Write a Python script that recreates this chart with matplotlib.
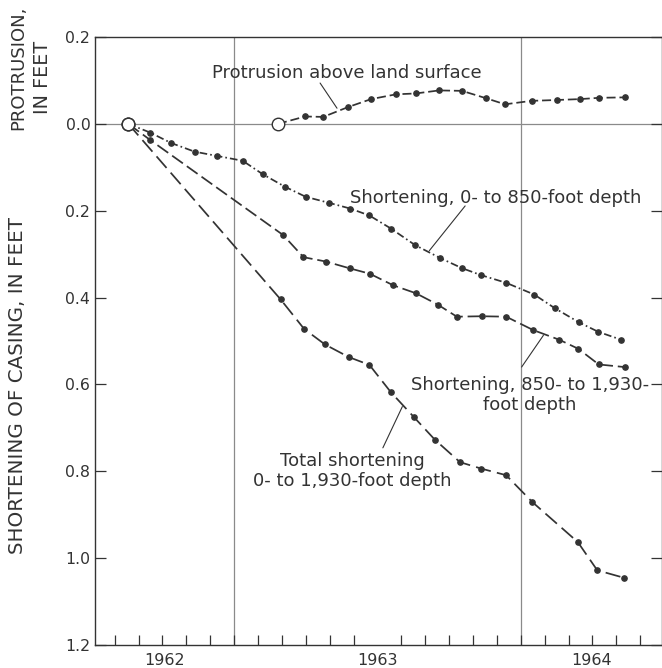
import matplotlib
matplotlib.use("Agg")
import matplotlib.pyplot as plt
from matplotlib.ticker import FixedLocator, FuncFormatter

plt.rcParams['font.family'] = ['DejaVu Sans']
plt.rcParams['lines.scale_dashes'] = False

INK = '#333333'
GRID = '#8a8a8a'

# Decimal-year dates and measured values (feet)
t_upper = [1962.631, 1962.707, 1962.780, 1962.862, 1962.942, 1963.030, 1963.100,
           1963.178, 1963.250, 1963.332, 1963.405, 1963.472, 1963.547, 1963.631,
           1963.719, 1963.794, 1963.860, 1963.949, 1964.047, 1964.120, 1964.203,
           1964.271, 1964.350]
s_upper = [0.0, 0.020, 0.044, 0.064, 0.074, 0.085, 0.116, 0.145, 0.168, 0.182,
           0.195, 0.211, 0.241, 0.279, 0.309, 0.332, 0.348, 0.366, 0.393, 0.425,
           0.457, 0.479, 0.497]

t_lower = [1962.631, 1962.707, 1963.171, 1963.242, 1963.320, 1963.405, 1963.473,
           1963.556, 1963.634, 1963.710, 1963.777, 1963.864, 1963.949, 1964.044,
           1964.134, 1964.201, 1964.272, 1964.362]
s_lower = [0.0, 0.037, 0.256, 0.307, 0.317, 0.333, 0.345, 0.372, 0.390, 0.416,
           0.444, 0.443, 0.444, 0.475, 0.497, 0.518, 0.554, 0.560]

t_total = [1962.631, 1963.162, 1963.244, 1963.317, 1963.400, 1963.472, 1963.547,
           1963.627, 1963.700, 1963.788, 1963.863, 1963.949, 1964.039, 1964.199,
           1964.267, 1964.359]
s_total = [0.0, 0.404, 0.472, 0.508, 0.537, 0.555, 0.618, 0.675, 0.727, 0.779,
           0.794, 0.809, 0.870, 0.963, 1.028, 1.045]

t_prot = [1963.153, 1963.248, 1963.311, 1963.399, 1963.478, 1963.565, 1963.634,
          1963.715, 1963.795, 1963.879, 1963.945, 1964.038, 1964.128, 1964.207,
          1964.274, 1964.364]
p_prot = [0.0, 0.017, 0.016, 0.039, 0.057, 0.068, 0.070, 0.077, 0.076, 0.059,
          0.045, 0.053, 0.055, 0.057, 0.060, 0.061]

years = [1962, 1963, 1964]
y_ticks = [-0.2, 0.0, 0.2, 0.4, 0.6, 0.8, 1.0, 1.2]

x_min, x_max = 1962.513, 1964.491

fig = plt.figure(figsize=(6.62, 6.68), dpi=100)
ax = fig.add_axes([94.5 / 662, 23 / 668, (661.5 - 94.5) / 662, (645 - 37) / 668])
ax.set_xlim(x_min, x_max)
ax.set_ylim(1.2, -0.2)

# reference lines: zero line and year boundaries
ax.axhline(0.0, color=GRID, lw=0.9, zorder=1)
for yr in years[1:]:
    ax.axvline(yr, color=GRID, lw=0.9, zorder=1)

def series(t, v, dashes):
    ax.plot(t, v, color=INK, lw=1.25, linestyle=(0, dashes),
            marker='o', ms=3.8, mfc=INK, mec=INK, markevery=slice(1, None),
            zorder=3)
    ax.plot(t[0], v[0], marker='o', ms=9, mfc='white', mec=INK, mew=1.0,
            linestyle='none', zorder=4)

series(t_upper, s_upper, (5.5, 2.2, 1.2, 2.2))
series(t_lower, s_lower, (9.5, 3.5))
series(t_total, s_total, (11, 4.5))
series(t_prot, [-p for p in p_prot], (6.5, 2.8))

# y axis: protrusion upward, shortening downward, both labelled as magnitudes
ax.yaxis.set_major_locator(FixedLocator(y_ticks))
ax.yaxis.set_major_formatter(FuncFormatter(lambda v, _: f"{abs(v):.1f}"))
ax.tick_params(axis='y', which='major', direction='in', length=8, width=0.9,
               color=INK, labelsize=11.3, labelcolor=INK, pad=3,
               left=True, right=True, labelleft=True, labelright=False)

# x axis: monthly ticks, year labels centred in each visible year span
months = [1962 + k / 12 for k in range(0, 40) if x_min < 1962 + k / 12 < x_max]
ax.xaxis.set_minor_locator(FixedLocator(months))
label_pos = [(x_min + 1963) / 2, 1963.5, (1964 + x_max) / 2]
ax.xaxis.set_major_locator(FixedLocator(label_pos))
ax.set_xticklabels([str(y) for y in years])
ax.tick_params(axis='x', which='major', length=0, labelsize=11.5,
               labelcolor=INK, pad=6)
ax.tick_params(axis='x', which='minor', direction='in', length=7, width=0.9,
               color=INK)

for sp in ax.spines.values():
    sp.set_color(INK)
    sp.set_linewidth(1.0)

# curve labels with leader lines
txt = dict(color=INK, fontsize=13, ha='center', va='center')
ax.text(1963.394, -0.116, "Protrusion above land surface", **txt)
ax.text(1963.913, 0.170, "Shortening, 0- to 850-foot depth", **txt)
ax.text(1964.032, 0.625, "Shortening, 850- to 1,930-\nfoot depth",
        linespacing=1.15, **txt)
ax.text(1963.412, 0.800, "Total shortening\n0- to 1,930-foot depth",
        linespacing=1.15, **txt)

leaders = [((1963.300, -0.094), (1963.359, -0.036)),
           ((1963.806, 0.189), (1963.681, 0.292)),
           ((1964.003, 0.560), (1964.079, 0.487)),
           ((1963.519, 0.746), (1963.587, 0.651))]
for start, end in leaders:
    ax.annotate('', xy=end, xytext=start,
                arrowprops=dict(arrowstyle='-', lw=0.8, color=INK,
                                shrinkA=0, shrinkB=0))

# axis titles
fig.text(18 / 662, 1 - 67.5 / 668, "PROTRUSION,", rotation=90,
         ha='center', va='center', fontsize=13, color=INK)
fig.text(43 / 662, 1 - 77.5 / 668, "IN FEET", rotation=90,
         ha='center', va='center', fontsize=13.8, color=INK)
fig.text(18 / 662, 1 - 385 / 668, "SHORTENING OF CASING, IN FEET", rotation=90,
         ha='center', va='center', fontsize=14.3, color=INK)

fig.savefig("out.png", dpi=100)
